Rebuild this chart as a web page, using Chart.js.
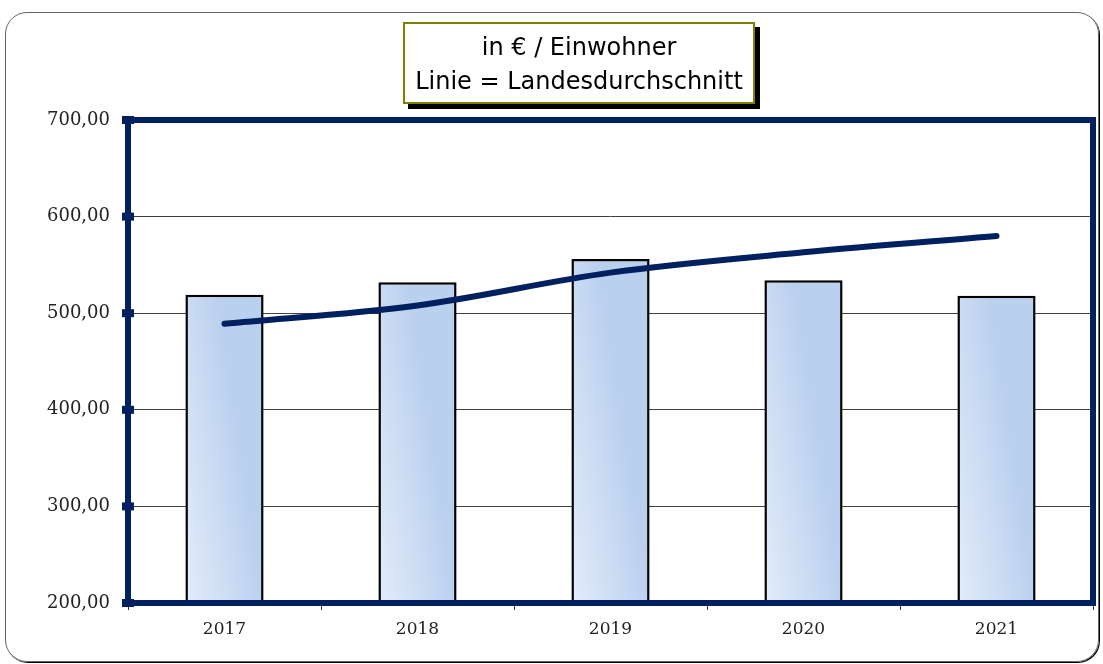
<!DOCTYPE html>
<html>
<head>
<meta charset="utf-8">
<script src="https://cdn.jsdelivr.net/npm/chart.js@4/dist/chart.umd.min.js"></script>
<style>
  html, body { margin: 0; padding: 0; background: #fff; }
  #wrap { position: relative; width: 1103px; height: 664px; overflow: hidden; }
  #frame {
    position: absolute; left: 5px; top: 12px; width: 1092px; height: 648px;
    border: 1px solid #666; border-radius: 22px; box-shadow: 1px 1px 0 #000;
  }
  #chart { position: absolute; left: 0; top: 0; }
  #legendBox {
    position: absolute; left: 403px; top: 22px; width: 348px; height: 72px;
    border: 2px solid #808000; background: #fff; box-shadow: 5px 5px 0 #000;
    font-family: "DejaVu Sans", Verdana, sans-serif; font-size: 24px; color: #000;
    text-align: center; line-height: 34px; padding-top: 6px; box-sizing: content-box;
  }
</style>
</head>
<body>
<div id="wrap">
  <div id="frame"></div>
  <canvas id="chart" width="1103" height="664"></canvas>
  <div id="legendBox">in € / Einwohner<br>Linie = Landesdurchschnitt</div>
</div>
<script>
// Daten
const years = ['2017', '2018', '2019', '2020', '2021']
const perResident = [519, 532, 556, 534, 518]      // Balken
const stateAverage = [489, 508, 542, 563, 580]     // Linie = Landesdurchschnitt
const yMin = 200
const yMax = 700

const NAVY = '#002060'

// ── Balken-Verlauf ──────────────────────────────────────────────────────
function barGradient (ctx) {
  const chart = ctx.chart
  const area = chart.chartArea
  if (!area || !chart.scales.x) return '#cfdcf2'
  const cx = chart.scales.x.getPixelForValue(ctx.dataIndex)
  const g = chart.ctx.createLinearGradient(cx - 39, area.bottom, cx + 39, area.bottom - 12)
  g.addColorStop(0, '#e4ecf9')
  g.addColorStop(1, '#bad0ef')
  return g
}

// ── Rahmen + Markierungen der Y-Achse ───────────────────────────────────
const plotFrame = {
  id: 'plotFrame',
  afterDatasetsDraw (chart) {
    const { ctx, chartArea: a, scales } = chart
    ctx.save()
    ctx.strokeStyle = NAVY
    ctx.lineWidth = 6
    ctx.strokeRect(a.left, a.top, a.right - a.left, a.bottom - a.top)
    ctx.fillStyle = NAVY
    scales.y.ticks.forEach(t => {
      const y = scales.y.getPixelForValue(t.value)
      ctx.fillRect(a.left - 6, y - 4, 12, 8)
    })
    ctx.restore()
  }
}

new Chart(document.getElementById('chart'), {
  data: {
    labels: years,
    datasets: [
      {
        type: 'line',
        label: 'Landesdurchschnitt',
        data: stateAverage,
        borderColor: NAVY,
        borderWidth: 6,
        borderCapStyle: 'round',
        tension: 0.4,
        cubicInterpolationMode: 'monotone',
        pointRadius: 0,
        order: 0
      },
      {
        type: 'bar',
        label: 'in € / Einwohner',
        data: perResident,
        backgroundColor: barGradient,
        borderColor: '#000',
        borderWidth: 2.5,
        borderSkipped: false,
        barPercentage: 0.405,
        categoryPercentage: 1,
        order: 1
      }
    ]
  },
  options: {
    responsive: false,
    animation: false,
    layout: { padding: { left: 0, top: 120, right: 10, bottom: 0 } },
    plugins: { legend: { display: false }, tooltip: { enabled: false } },
    scales: {
      x: {
        offset: true,
        grid: { offset: true, drawOnChartArea: false, tickLength: 7, tickColor: '#333', lineWidth: 1 },
        border: { display: false },
        ticks: { color: '#222', padding: 9, font: { family: 'DejaVu Serif', size: 17 } },
        afterFit: s => { s.height = 61 }
      },
      y: {
        min: yMin,
        max: yMax,
        grid: { color: '#404040', lineWidth: 1, drawTicks: false },
        border: { display: false },
        ticks: {
          stepSize: 100,
          padding: 18,
          color: '#222',
          font: { family: 'DejaVu Serif', size: 18 },
          callback: v => v.toFixed(2).replace('.', ',')
        },
        afterFit: s => { s.width = 128 }
      }
    }
  },
  plugins: [plotFrame]
})
</script>
</body>
</html>
